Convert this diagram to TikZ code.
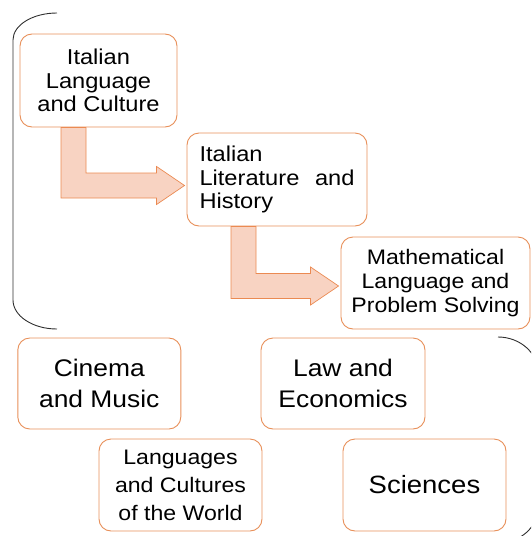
\documentclass[tikz,border=0pt]{standalone}
\usepackage{fontspec}
\setmainfont[FakeStretch=1.1]{Liberation Sans}
\usetikzlibrary{calc,positioning}

\definecolor{boxline}{HTML}{E8905A}
\definecolor{arrowfill}{HTML}{F8D3C2}
\definecolor{arrowline}{HTML}{EB8A52}
\definecolor{bracket}{HTML}{303030}

% bent block arrow: from #1 (top of the shaft) down and across to the tip #2
\newcommand{\bentarrow}[2]{%
  \path[blockarrow] let \p1=(#1), \p2=(#2) in
    (\x1-12.5pt,\y1) -- (\x1-12.5pt,\y2-12.5pt) -- (\x2-28pt,\y2-12.5pt)
    -- (\x2-28pt,\y2-19pt) -- (\x2,\y2) -- (\x2-28pt,\y2+19pt)
    -- (\x2-28pt,\y2+12.5pt) -- (\x1+12.5pt,\y2+12.5pt) -- (\x1+12.5pt,\y1) -- cycle;}

\begin{document}
\begin{tikzpicture}[x=1pt,y=-1pt,
    course/.style={rectangle,draw=boxline,line width=0.9pt,rounded corners=12pt,
      fill=white,align=center,inner sep=0pt,
      font=\fontsize{21.5}{23.6}\selectfont},
    blockarrow/.style={fill=arrowfill,draw=arrowline,line width=0.7pt},
    brace/.style={draw=bracket,line width=0.9pt}]
    \clip (0,0) rectangle (531,536);

    % first path
    \node[course,minimum width=157pt,minimum height=93pt] (lang)   at (98.5,80.5)  {Italian\\Language\\and Culture};
    \node[course,minimum width=180pt,minimum height=93pt,text width=155pt,align=left]
                                                           (lit)    at (277,179.5)  {Italian\\\leavevmode\hbox to 155pt{Literature\hfill and}\\History};
    \node[course,minimum width=189pt,minimum height=92pt,font=\fontsize{21}{23.6}\selectfont]
                                                           (math)   at (435.5,283)  {Mathematical\\Language and\\Problem Solving};

    % other courses
    \node[course,minimum width=163pt,minimum height=91pt,font=\fontsize{24}{31}\selectfont]
                                                           (cinema) at (99.3,383.5) {Cinema\\and Music};
    \node[course,minimum width=164pt,minimum height=91pt,font=\fontsize{24}{31}\selectfont]
                                                           (law)    at (343,383.5)  {Law and\\Economics};
    \node[course,minimum width=163pt,minimum height=92pt,font=\fontsize{21}{28}\selectfont]
                                                           (world)  at (180.5,485)  {Languages\\and Cultures\\of the World};
    \node[course,minimum width=163pt,minimum height=92pt,font=\fontsize{25}{30}\selectfont]
                                                           (sci)    at (424.5,485)  {Sciences};

    \coordinate (a1s) at ([xshift=54pt]lang.south west);
    \coordinate (a1t) at ([xshift=-2pt,yshift=-6pt]lit.west);
    \coordinate (a2s) at ([xshift=57pt]lit.south west);
    \coordinate (a2t) at ([xshift=-2pt,yshift=-3pt]math.west);
    \bentarrow{a1s}{a1t}
    \bentarrow{a2s}{a2t}

    % brackets
    \draw[brace] (57,13) .. controls (32.7,13) and (13,25) .. (13,40) -- (13,300)
                 .. controls (13,316) and (32.7,329) .. (57,329);
    \draw[brace] (498,337) .. controls (520,337) and (538,353) .. (538,372) -- (538,508)
                 .. controls (538,527) and (520,543) .. (498,543);
\end{tikzpicture}
\end{document}
